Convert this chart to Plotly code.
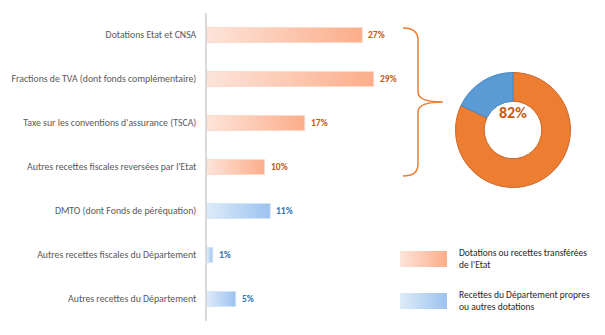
import plotly.graph_objects as go

categories = [
    "Dotations Etat et CNSA",
    "Fractions de TVA (dont fonds complémentaire)",
    "Taxe sur les conventions d'assurance (TSCA)",
    "Autres recettes fiscales reversées par l'Etat",
    "DMTO (dont Fonds de péréquation)",
    "Autres recettes fiscales du Département",
    "Autres recettes du Département",
]
values = [27, 29, 17, 10, 11, 1, 5]
groups = ["etat", "etat", "etat", "etat", "dept", "dept", "dept"]
donut_labels = ["Dotations ou recettes transférées de l'Etat", "Recettes du Département propres ou autres dotations"]
donut_values = [82, 18]
legend_texts = ["Dotations ou recettes transférées<br>de l'Etat", "Recettes du Département propres<br>ou autres dotations"]

W, H = 605, 335
FONT = "Carlito, Liberation Sans, Arial"
grad = {"etat": [[0, "#FDE4DA"], [1, "#FBAD8A"]], "dept": [[0, "#DEEBF8"], [1, "#9CC2EF"]]}
edge = {"etat": "#FCD9CB", "dept": "#D4E5F8"}
txtcol = {"etat": "#C55A11", "dept": "#2E75B6"}

fig = go.Figure()
half = 0.17
for i, (c, v, g) in enumerate(zip(categories, values, groups)):
    fig.add_trace(go.Scatter(
        x=[0, v, v, 0, 0], y=[i - half, i - half, i + half, i + half, i - half],
        mode="lines", fill="toself", line=dict(color=edge[g], width=1),
        fillgradient=dict(type="horizontal", colorscale=grad[g]),
        hoverinfo="skip", showlegend=False))
    fig.add_annotation(x=v, y=i, xref="x", yref="y", text=f"<b>{v}%</b>",
                       showarrow=False, xanchor="left", xshift=4,
                       font=dict(family=FONT, size=9.5, color=txtcol[g]))

# donut
fig.add_trace(go.Pie(
    values=donut_values, labels=donut_labels, hole=0.5, sort=False,
    direction="clockwise", rotation=0, textinfo="none", hoverinfo="skip",
    marker=dict(colors=["#ED7D31", "#5B9BD5"], line=dict(color=["#C9692A", "#4A86BF"], width=1)),
    domain=dict(x=[455.5 / W, 570.5 / W], y=[1 - 187.5 / H, 1 - 72.5 / H]),
    showlegend=False))
fig.add_annotation(x=513 / W, y=1 - 112.5 / H, xref="paper", yref="paper",
                   xanchor="center", yanchor="middle",
                   text=f"<b>{donut_values[0]}%</b>", showarrow=False,
                   font=dict(family=FONT, size=16, color="#C55A11"))

# legend swatches on a separate full-page pixel axis
sw = [(251, 267, "etat"), (293, 309, "dept")]
for (y0, y1, g), t in zip(sw, legend_texts):
    fig.add_trace(go.Scatter(
        x=[400, 447, 447, 400, 400], y=[y0, y0, y1, y1, y0], xaxis="x2", yaxis="y2",
        mode="lines", fill="toself", line=dict(color="rgba(255,255,255,0)", width=0),
        fillgradient=dict(type="horizontal", colorscale=grad[g]),
        hoverinfo="skip", showlegend=False))
    fig.add_annotation(x=457, y=(y0 + y1) / 2, xref="x2", yref="y2", text=t,
                       showarrow=False, xanchor="left", yanchor="middle", align="left",
                       font=dict(family=FONT, size=9.5, color="#262626"))

# brace
def P(x, y):
    return f"{x / W:.5f},{1 - y / H:.5f}"
path = (f"M {P(403, 28)} Q {P(418, 28)} {P(418, 40)} L {P(418, 92)} "
        f"Q {P(418, 102)} {P(443, 102)} Q {P(418, 102)} {P(418, 112)} "
        f"L {P(418, 164)} Q {P(418, 176)} {P(403, 176)}")
fig.add_shape(type="path", path=path, xref="paper", yref="paper",
              line=dict(color="#ED7D31", width=1.5))

fig.update_layout(
    width=W, height=H, margin=dict(l=0, r=0, t=0, b=0),
    paper_bgcolor="white", plot_bgcolor="rgba(0,0,0,0)",
    xaxis=dict(domain=[207 / W, 1], range=[0, (W - 207) / 5.75], visible=False, fixedrange=True),
    yaxis=dict(domain=[1 - 321 / H, 1 - 13 / H], range=[6.5, -0.5],
               tickvals=list(range(len(categories))), ticktext=categories,
               showgrid=False, zeroline=False, showline=True, linecolor="#D9D9D9", linewidth=1.5,
               ticks="", ticklabelstandoff=7,
               tickfont=dict(family=FONT, size=9.8, color="#595959")),
    xaxis2=dict(domain=[0, 1], range=[0, W], visible=False, anchor="y2"),
    yaxis2=dict(domain=[0, 1], range=[H, 0], visible=False, anchor="x2"),
)
fig.write_html("out.html")
